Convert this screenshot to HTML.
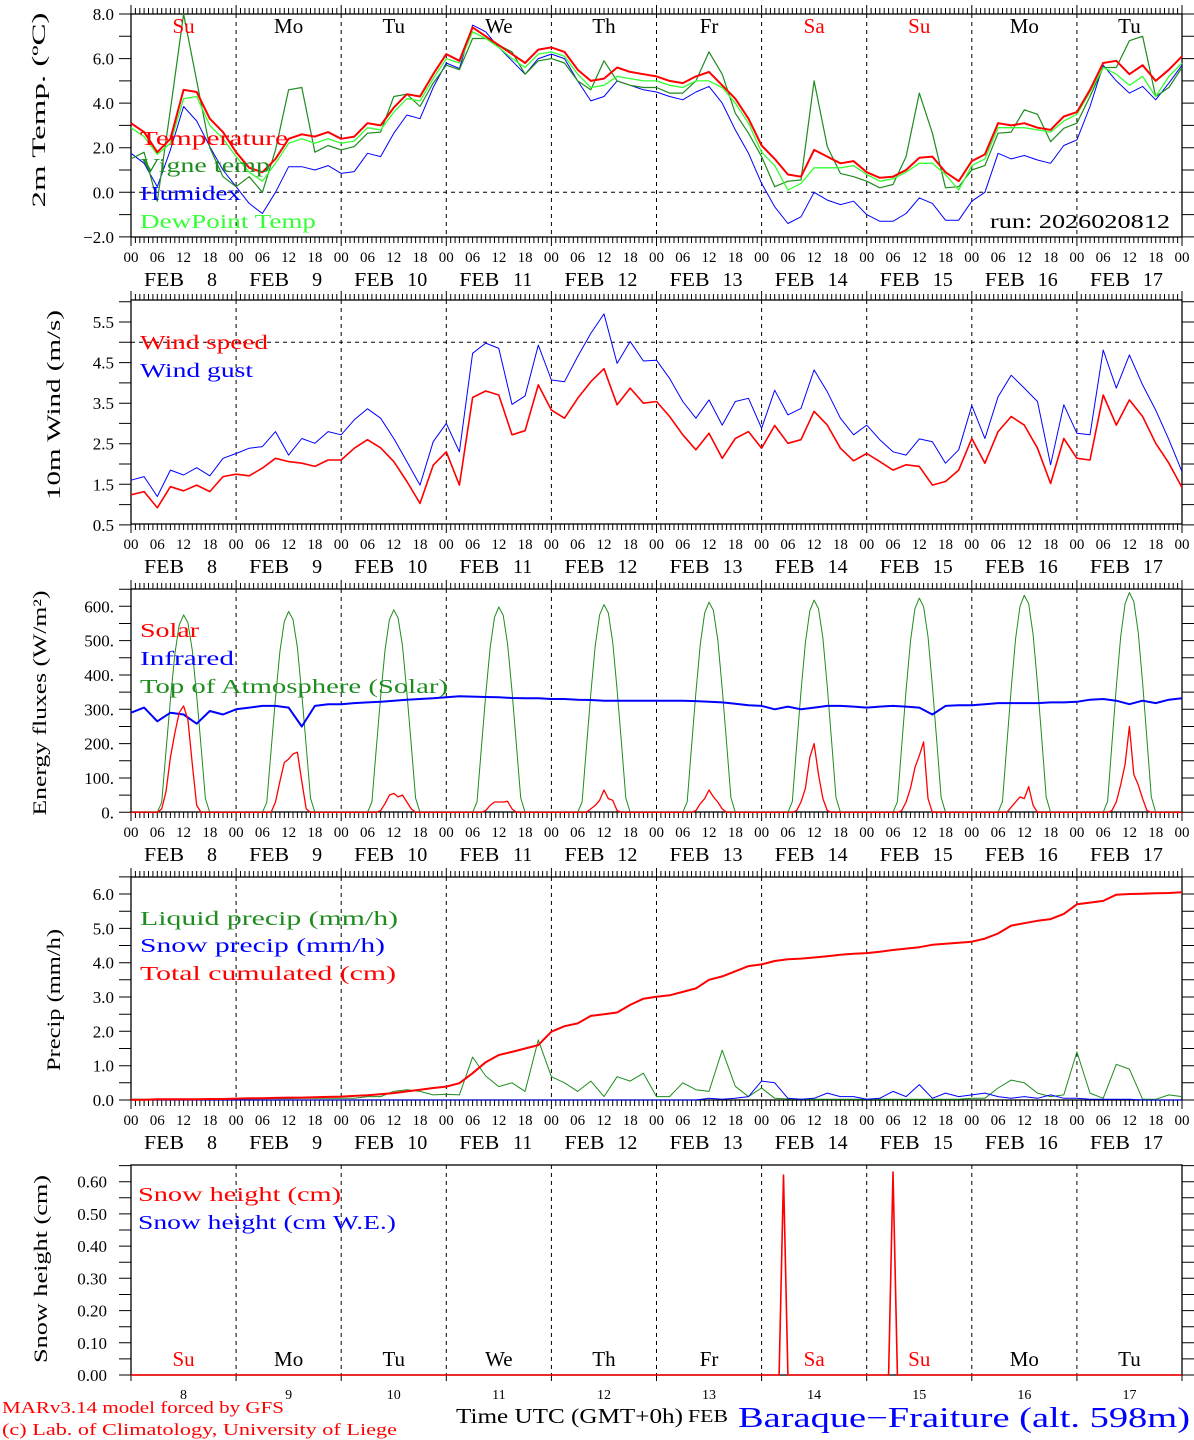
<!DOCTYPE html>
<html><head><meta charset="utf-8">
<style>
html,body{margin:0;padding:0;background:#fff;}
svg{display:block;font-family:"Liberation Serif",serif;}
</style></head>
<body>
<svg id="chart" width="1194" height="1440" viewBox="0 0 1194 1440" xmlns="http://www.w3.org/2000/svg"></svg>
<script>
// ---------- data (3-hourly unless noted, Feb 8 00 UTC -> Feb 18 00 UTC) ----------
const dayNames = ['Su','Mo','Tu','We','Th','Fr','Sa','Su','Mo','Tu'];
const dayNums = ['8','9','10','11','12','13','14','15','16','17'];
const hourLabels = ['00','06','12','18'];
const tempVals = [3.1,2.7,1.8,2.4,4.6,4.5,3.3,2.7, 1.8,1.1,0.9,1.5,2.4,2.6,2.5,2.7, 2.4,2.5,3.1,3.0,3.8,4.4,4.3,5.3, 6.2,5.9,7.4,7.0,6.6,6.2,5.8,6.4, 6.5,6.3,5.5,5.0,5.1,5.6,5.4,5.3, 5.2,5.0,4.9,5.2,5.4,4.8,4.2,3.3, 2.1,1.5,0.8,0.7,1.9,1.6,1.3,1.4, 0.9,0.65,0.7,1.0,1.55,1.6,0.9,0.5, 1.4,1.7,3.1,3.0,3.1,2.9,2.8,3.4, 3.6,4.6,5.8,5.9,5.3,5.7,5.0,5.5,6.1];
const vigneVals = [1.5,1.8,-0.4,3.7,8.0,5.0,2.0,0.7, 0.25,0.7,0.0,1.9,4.6,4.7,1.8,2.1, 1.9,2.05,2.65,2.7,4.3,4.4,3.85,4.9, 5.7,5.5,6.9,6.9,6.6,6.3,5.3,5.9, 6.0,5.8,5.0,4.6,5.9,5.0,4.8,4.7, 4.7,4.45,4.45,5.0,6.3,5.3,3.55,2.65, 1.6,0.25,0.5,0.55,5.0,2.05,0.85,0.7, 0.5,0.2,0.35,1.6,4.45,2.65,0.2,0.25, 1.0,1.2,2.65,2.7,3.7,3.5,2.27,2.87, 3.1,4.3,5.6,5.6,6.8,7.0,4.3,4.7,5.6];
const humidexVals = [1.75,1.3,0.25,1.9,3.85,3.2,2.05,1.0, 0.25,-0.5,-0.95,0.0,1.15,1.15,1.0,1.2, 0.85,0.93,1.75,1.6,2.65,3.47,3.3,4.7, 5.8,5.55,7.5,7.2,6.5,5.9,5.3,6.0, 6.2,6.0,5.0,4.1,4.3,5.0,4.8,4.6, 4.5,4.3,4.15,4.5,4.75,4.0,2.8,1.75, 0.4,-0.65,-1.4,-1.1,0.0,-0.35,-0.55,-0.4, -1.0,-1.3,-1.3,-0.95,-0.25,-0.5,-1.25,-1.25, -0.4,0.0,1.75,1.5,1.65,1.45,1.3,2.1, 2.35,3.85,5.7,5.0,4.45,4.75,4.15,4.9,5.7];
const dewVals = [2.9,2.5,1.7,2.2,4.2,4.3,3.0,2.4, 1.6,0.9,0.5,1.3,2.2,2.4,2.2,2.4, 2.2,2.3,2.9,2.8,3.6,4.2,4.1,5.1, 6.0,5.8,7.2,6.9,6.5,6.0,5.6,6.2, 6.3,6.1,5.3,4.7,4.8,5.2,5.1,5.0, 5.0,4.8,4.7,5.0,5.0,4.7,4.0,3.1, 1.8,1.2,0.1,0.4,1.1,1.1,1.1,1.2, 0.8,0.5,0.6,0.9,1.3,1.3,0.8,0.1, 1.2,1.5,2.9,2.9,2.9,2.8,2.7,3.2, 3.5,4.5,5.6,5.3,4.8,5.2,4.3,5.2,5.8];
const windVals = [1.24,1.32,0.92,1.44,1.34,1.48,1.32,1.69, 1.75,1.71,1.9,2.14,2.06,2.02,1.94,2.1, 2.1,2.39,2.6,2.4,2.06,1.57,1.03,1.97, 2.3,1.48,3.64,3.8,3.7,2.72,2.82,3.95, 3.33,3.13,3.62,4.03,4.35,3.46,3.87,3.5, 3.54,3.17,2.72,2.35,2.76,2.14,2.63,2.8, 2.39,2.95,2.51,2.6,3.3,2.96,2.39,2.08, 2.26,2.06,1.85,1.98,1.94,1.48,1.57,1.85, 2.63,2.02,2.8,3.17,2.96,2.39,1.52,2.63, 2.14,2.1,3.7,2.96,3.58,3.17,2.51,2.02,1.42];
const gustVals = [1.6,1.69,1.2,1.85,1.73,1.91,1.71,2.14, 2.26,2.39,2.43,2.8,2.22,2.63,2.51,2.8, 2.72,3.09,3.36,3.13,2.63,2.06,1.48,2.55, 3.0,2.3,4.73,4.98,4.85,3.47,3.68,4.93, 4.07,4.03,4.65,5.22,5.7,4.48,5.02,4.54, 4.56,4.11,3.54,3.13,3.58,2.96,3.54,3.62, 2.88,3.82,3.21,3.37,4.32,3.78,3.13,2.72, 2.96,2.6,2.3,2.22,2.62,2.55,2.02,2.35, 3.44,2.63,3.66,4.19,3.87,3.54,1.98,3.46, 2.76,2.72,4.81,3.87,4.69,3.95,3.33,2.6,1.81];
const infraredVals = [290,305,265,290,285,258,295,285, 300,305,310,310,305,250,310,315, 315,318,320,322,325,328,330,332, 335,338,337,336,335,333,332,332, 330,330,328,327,325,325,325,325, 325,325,325,324,322,320,316,312, 310,300,308,300,305,310,310,308, 305,308,310,308,305,285,310,312, 312,315,318,318,318,318,320,320, 322,328,330,325,315,325,318,328,332];
// hourly
const solarHourly = [
 0,0,0,0,0,0,0,10,60,160,230,290,310,270,140,20,0,0,0,0,0,0,0,0,
 0,0,0,0,0,0,0,0,0,30,90,145,155,170,175,90,10,0,0,0,0,0,0,0,
 0,0,0,0,0,0,0,0,0,5,25,50,55,45,50,30,10,0,0,0,0,0,0,0,
 0,0,0,0,0,0,0,0,0,5,20,30,30,30,32,10,0,0,0,0,0,0,0,0,
 0,0,0,0,0,0,0,0,0,10,20,35,65,40,35,5,0,0,0,0,0,0,0,0,
 0,0,0,0,0,0,0,0,0,5,25,40,65,45,30,10,0,0,0,0,0,0,0,0,
 0,0,0,0,0,0,0,0,5,30,70,160,200,110,40,5,0,0,0,0,0,0,0,0,
 0,0,0,0,0,0,0,0,5,30,70,130,165,205,40,0,0,0,0,0,0,0,0,0,
 0,0,0,0,0,0,0,0,0,15,30,45,40,75,20,0,0,0,0,0,0,0,0,0,
 0,0,0,0,0,0,0,0,5,30,80,140,250,110,80,40,5,0,0,0,0,0,0,0,
 0];
const toaHourly = [
 0,0,0,0,0,0,0,29,178,328,460,546,575,552,472,339,190,40,0,0,0,0,0,0,
 0,0,0,0,0,0,0,29,181,333,468,556,585,562,480,345,193,41,0,0,0,0,0,0,
 0,0,0,0,0,0,0,30,183,336,472,561,590,566,484,348,195,41,0,0,0,0,0,0,
 0,0,0,0,0,0,0,30,185,341,478,568,598,574,490,353,197,42,0,0,0,0,0,0,
 0,0,0,0,0,0,0,30,188,345,484,575,605,581,496,357,200,42,0,0,0,0,0,0,
 0,0,0,0,0,0,0,31,190,349,490,581,612,588,502,361,202,43,0,0,0,0,0,0,
 0,0,0,0,0,0,0,31,192,352,494,587,618,593,507,365,204,43,0,0,0,0,0,0,
 0,0,0,0,0,0,0,31,193,356,499,593,624,599,512,368,206,44,0,0,0,0,0,0,
 0,0,0,0,0,0,0,32,196,360,506,600,632,607,518,373,209,44,0,0,0,0,0,0,
 0,0,0,0,0,0,0,32,198,365,512,608,640,614,525,378,211,45,0,0,0,0,0,0,
 0];
const precipTotalVals = [0.01,0.01,0.02,0.02,0.02,0.02,0.03,0.03, 0.04,0.05,0.05,0.06,0.07,0.07,0.08,0.09, 0.1,0.12,0.14,0.17,0.2,0.25,0.3,0.35, 0.39,0.49,0.78,1.1,1.31,1.4,1.5,1.6, 1.99,2.15,2.23,2.45,2.5,2.55,2.77,2.95, 3.01,3.05,3.15,3.25,3.5,3.6,3.75,3.9, 3.95,4.05,4.1,4.12,4.15,4.19,4.23,4.26, 4.28,4.32,4.37,4.41,4.45,4.52,4.55,4.58, 4.61,4.7,4.85,5.08,5.15,5.22,5.27,5.42, 5.7,5.75,5.8,5.98,6.0,6.01,6.02,6.03,6.05];
const liquidVals = [0.02,0.02,0.02,0.02,0.02,0.02,0.02,0.03, 0.03,0.03,0.04,0.04,0.04,0.05,0.05,0.05, 0.05,0.05,0.1,0.1,0.25,0.3,0.25,0.15, 0.17,0.15,1.25,0.7,0.39,0.5,0.25,1.75, 0.68,0.5,0.25,0.55,0.1,0.68,0.55,0.78, 0.1,0.1,0.5,0.3,0.25,1.45,0.4,0.1, 0.35,0.05,0.03,0.02,0.02,0.02,0.02,0.02, 0.02,0.02,0.02,0.02,0.02,0.02,0.02,0.02, 0.05,0.05,0.35,0.58,0.5,0.2,0.1,0.15, 1.4,0.2,0.05,1.04,0.9,0.02,0.02,0.15,0.1];
const snowPrecipVals = [0,0,0,0,0,0,0,0, 0,0,0,0,0,0,0,0, 0,0,0,0,0,0,0,0, 0,0,0,0,0,0,0,0, 0,0,0,0,0,0,0,0, 0,0,0,0,0.05,0.02,0.05,0.1, 0.55,0.5,0.05,0.02,0.05,0.2,0.1,0.1, 0.02,0.05,0.25,0.1,0.45,0.05,0.2,0.1, 0.15,0.2,0.1,0.05,0.1,0.05,0.15,0.05, 0.05,0.02,0.02,0.02,0.02,0,0,0,0];
// hourly
const snowHeightHourly = [
 0,0,0,0,0,0,0,0,0,0,0,0,0,0,0,0,0,0,0,0,0,0,0,0,
 0,0,0,0,0,0,0,0,0,0,0,0,0,0,0,0,0,0,0,0,0,0,0,0,
 0,0,0,0,0,0,0,0,0,0,0,0,0,0,0,0,0,0,0,0,0,0,0,0,
 0,0,0,0,0,0,0,0,0,0,0,0,0,0,0,0,0,0,0,0,0,0,0,0,
 0,0,0,0,0,0,0,0,0,0,0,0,0,0,0,0,0,0,0,0,0,0,0,0,
 0,0,0,0,0,0,0,0,0,0,0,0,0,0,0,0,0,0,0,0,0,0,0,0,
 0,0,0,0,0,0.62,0,0,0,0,0,0,0,0,0,0,0,0,0,0,0,0,0,0,
 0,0,0,0,0,0,0.63,0,0,0,0,0,0,0,0,0,0,0,0,0,0,0,0,0,
 0,0,0,0,0,0,0,0,0,0,0,0,0,0,0,0,0,0,0,0,0,0,0,0,
 0,0,0,0,0,0,0,0,0,0,0,0,0,0,0,0,0,0,0,0,0,0,0,0,
 0];

// ---------- drawing ----------
const NS='http://www.w3.org/2000/svg';
const svg=document.getElementById('chart');
const X0=131, DW=105.1, XR=1182;
function X(h){return X0+h/24*DW;}
function mk(tag,attrs,parent){const e=document.createElementNS(NS,tag);for(const k in attrs)e.setAttribute(k,attrs[k]);(parent||svg).appendChild(e);return e;}
function txt(s,x,y,size,fill,anchor,len,parent){
  const a={x:x,y:y,'font-size':size,fill:fill,'text-anchor':anchor||'start'};
  if(len){a.textLength=len;a.lengthAdjust='spacingAndGlyphs';}
  const t=mk('text',a,parent);t.textContent=s;return t;
}
const panels=[
 {id:'temp',top:14,bot:237,y:v=>192.3-v*22.29,minor:1,vmin:-2,vmax:8},
 {id:'wind',top:300,bot:524,y:v=>342.3-(v-5)*40.57,minor:0.5,vmin:0.5,vmax:6},
 {id:'energy',top:589,bot:812,y:v=>812.3-v*0.3433,minor:50,vmin:0,vmax:650},
 {id:'precip',top:877,bot:1100,y:v=>1100-v*34.33,minor:0.5,vmin:0,vmax:6.5},
 {id:'snow',top:1165,bot:1375,y:v=>1375-v*322.2,minor:0.05,vmin:0,vmax:0.65}
];
const yLabels=[
 [[8,'8.0'],[6,'6.0'],[4,'4.0'],[2,'2.0'],[0,'0.0'],[-2,'\u22122.0']],
 [[5.5,'5.5'],[4.5,'4.5'],[3.5,'3.5'],[2.5,'2.5'],[1.5,'1.5'],[0.5,'0.5']],
 [[600,'600.'],[500,'500.'],[400,'400.'],[300,'300.'],[200,'200.'],[100,'100.'],[0,'0.']],
 [[6,'6.0'],[5,'5.0'],[4,'4.0'],[3,'3.0'],[2,'2.0'],[1,'1.0'],[0,'0.0']],
 [[0.6,'0.60'],[0.5,'0.50'],[0.4,'0.40'],[0.3,'0.30'],[0.2,'0.20'],[0.1,'0.10'],[0,'0.00']]
];
const yTitles=[['2m Temp. (\u00baC)',45,110,195],['10m Wind (m/s)',60,405,190],['Energy fluxes (W/m\u00b2)',46,703,225],['Precip (mm/h)',60,1000,142],['Snow height (cm)',47,1269,188]];

panels.forEach((p,pi)=>{
  const g=mk('g',{});
  
  
  // dashed day lines
  for(let d=1;d<10;d++){
    const l=mk('line',{x1:X(d*24),x2:X(d*24),y1:p.top,y2:p.bot,stroke:'#000','stroke-width':1,'stroke-dasharray':'4,4'},g);
    
    
  }
  if(pi===0){const l=mk('line',{x1:X0,x2:XR,y1:p.y(0),y2:p.y(0),stroke:'#000','stroke-dasharray':'4,4'},g);}
  if(pi===1){const l=mk('line',{x1:X0,x2:XR,y1:p.y(5),y2:p.y(5),stroke:'#000','stroke-dasharray':'4,4'},g);}
  // frame
  const fr=mk('rect',{x:X0,y:p.top,width:XR-X0,height:p.bot-p.top,fill:'none',stroke:'#000','stroke-width':1.3},g);
  
  
  // x ticks
  let d='';
  if(pi<4){
    for(let h=0;h<=240;h++){const x=X(h).toFixed(1);const L=(h%24===0)?9:6;d+=`M${x},${p.top}v${-L}M${x},${p.bot}v${L}`;}
  } else {
    for(let h=0;h<=240;h+=24){const x=X(h).toFixed(1);d+=`M${x},${p.bot}v6`;}
  }
  // y ticks
  for(let v=p.vmin;v<=p.vmax+1e-9;v+=p.minor){const y=p.y(v);if(y<p.top-0.5)continue;d+=`M${X0},${y.toFixed(1)}h-12M${XR},${y.toFixed(1)}h12`;}
  const tk=mk('path',{d:d,stroke:'#000','stroke-width':1,fill:'none'},g);
  
  
  // y labels
  yLabels[pi].forEach(([v,s])=>{
    const t=txt(s,pi===4?107:114,p.y(v)+6,17,'#000','end',null,g);
    
    
  });
  const [tt,tx,ty,tl]=yTitles[pi];
  const yt=txt(tt,0,0,19,'#000','middle',tl,g);
  yt.setAttribute('transform',`translate(${tx},${ty}) rotate(-90)`);
  
  
  // x labels
  if(pi<4){
    for(let dd=0;dd<10;dd++){
      for(let k=0;k<4;k++){const t=txt(hourLabels[k],X(dd*24+k*6),p.bot+25,15,'#000','middle',null,g);}
      const ds=X(dd*24);
      const f=txt('FEB',ds+13,p.bot+49,20,'#000','start',40,g);
      const n=txt(dayNums[dd],ds+86,p.bot+49,20,'#000','end',null,g);
    }
    const t=txt('00',X(240),p.bot+25,15,'#000','middle',null,g);
  }
});

function series(vals,step,p,color,w,name){
  const pts=vals.map((v,i)=>X(i*step).toFixed(1)+','+p.y(v).toFixed(1)).join(' ');
  const l=mk('polyline',{points:pts,fill:'none',stroke:color,'stroke-width':w,'stroke-linejoin':'round'});
  
  
  return l;
}
function legend(s,x,y,color,len){const t=txt(s,x,y,20,color,'start',len);return t;}
const [P1,P2,P3,P4,P5]=panels;
const RED='#ff0000',BLUE='#0000ff',DG='#1e8c1e',LG='#33ff33';

// panel 1
series(humidexVals,3,P1,BLUE,1,'humidex-line');
series(vigneVals,3,P1,DG,1.2,'vigne-temp-line');
series(dewVals,3,P1,LG,1.3,'dewpoint-line');
series(tempVals,3,P1,RED,2,'temperature-line');
legend('Temperature',140,145,RED,148);
legend('Vigne temp',140,172,DG,130);
legend('Humidex',140,200,BLUE,101);
legend('DewPoint Temp',140,228,LG,176);
{const t=txt('run: 2026020812',990,228,20,'#000','start',180);}
dayNames.forEach((n,i)=>{const red=(i===0||i===6||i===7);const t=txt(n,X(i*24+12),33,21,red?RED:'#000','middle');});

// panel 2
series(gustVals,3,P2,BLUE,1,'wind-gust-line');
series(windVals,3,P2,RED,1.6,'wind-speed-line');
legend('Wind speed',140,349,RED,128);
legend('Wind gust',140,377,BLUE,113);

// panel 3
series(toaHourly,1,P3,DG,1,'toa-solar-line');
series(infraredVals,3,P3,BLUE,2,'infrared-line');
series(solarHourly,1,P3,RED,1.3,'solar-line');
legend('Solar',140,637,RED,59);
legend('Infrared',140,665,BLUE,94);
legend('Top of Atmosphere (Solar)',140,693,DG,308);

// panel 4
series(liquidVals,3,P4,DG,1,'liquid-precip-line');
series(snowPrecipVals,3,P4,BLUE,1,'snow-precip-line');
series(precipTotalVals,3,P4,RED,2,'total-cumulated-line');
legend('Liquid precip (mm/h)',140,925,DG,258);
legend('Snow precip (mm/h)',140,952,BLUE,245);
legend('Total cumulated (cm)',140,980,RED,256);

// panel 5
series(snowHeightHourly,1,P5,RED,1.6,'snow-height-line');
legend('Snow height (cm)',138,1201,RED,203);
legend('Snow height (cm W.E.)',138,1229,BLUE,258);
dayNames.forEach((n,i)=>{const red=(i===0||i===6||i===7);const t=txt(n,X(i*24+12),1366,21,red?RED:'#000','middle');});
dayNums.forEach((n,i)=>{const t=txt(n,X(i*24+12),1399,14,'#000','middle');});

// footer
{let t=txt('MARv3.14 model forced by GFS',2,1413,17,RED,'start',282);
 t=txt('(c) Lab. of Climatology, University of Liege',2,1435,17,RED,'start',395);
 t=txt('Time UTC (GMT+0h)',456,1423,21,'#000','start',227);
 t=txt('FEB',688,1422,18,'#000','start',40);
 t=txt('Baraque\u2212Fraiture (alt. 598m)',738,1427,28,BLUE,'start',452);}
</script>
</body></html>
